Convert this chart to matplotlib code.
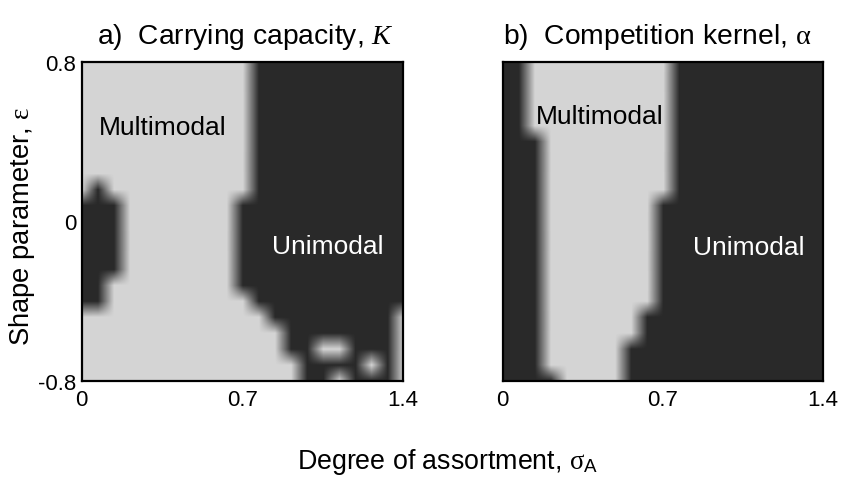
import numpy as np
import matplotlib
matplotlib.use("Agg")
import matplotlib.pyplot as plt
from matplotlib.colors import LinearSegmentedColormap

plt.rcParams['font.family'] = ['Liberation Sans', 'DejaVu Sans']
plt.rcParams['mathtext.fontset'] = 'custom'
plt.rcParams['mathtext.rm'] = 'Liberation Serif'
plt.rcParams['mathtext.it'] = 'Liberation Serif:italic'
plt.rcParams['mathtext.sf'] = 'Liberation Sans'

# grid axes
sigma_A = np.linspace(0, 1.4, 21)
epsilon = np.linspace(-0.8, 0.8, 21)

# 1 = multimodal (light), 0 = unimodal (dark); rows from epsilon=0.8 (top) to -0.8 (bottom)
grid_K = [
    "111111111110000000000",
    "111111111110000000000",
    "111111111110000000000",
    "111111111110000000000",
    "111111111110000000000",
    "111111111110000000000",
    "111111111110000000000",
    "111111111110000000000",
    "101111111110000000000",
    "000111111100000000000",
    "000111111100000000000",
    "000111111100000000000",
    "000111111100000000000",
    "000111111100000000000",
    "001111111100000000000",
    "001111111110000000000",
    "111111111111000000001",
    "111111111111100000001",
    "111111111111100110001",
    "111111111111110000101",
    "111111111111110010001",
]
grid_alpha = [
    "001111111110000000000",
    "001111111110000000000",
    "001111111110000000000",
    "001111111110000000000",
    "001111111110000000000",
    "000111111110000000000",
    "000111111110000000000",
    "000111111110000000000",
    "000111111110000000000",
    "000111111100000000000",
    "000111111100000000000",
    "000111111100000000000",
    "000111111100000000000",
    "000111111100000000000",
    "000111111100000000000",
    "000111111100000000000",
    "000111111000000000000",
    "000111111000000000000",
    "000111110000000000000",
    "000111110000000000000",
    "000011110000000000000",
]

titles = [r"a)  Carrying capacity, $K$", r"b)  Competition kernel, $\mathrm{\alpha}$"]
x_ticks = [0, 0.7, 1.4]
x_ticklabels = ["0", "0.7", "1.4"]
y_ticks = [-0.8, 0, 0.8]
y_ticklabels = ["-0.8", "0", "0.8"]

def to_array(rows):
    return np.array([[int(c) for c in r] for r in rows], dtype=float)  # top row first

cmap = LinearSegmentedColormap.from_list("gr", ["#292929", "#d4d4d4"])

W, H = 841, 489
fig = plt.figure(figsize=(W / 100, H / 100), dpi=100)

panels = [
    (81.7, 62.7, 321.3, 319.0, grid_K),
    (502.7, 62.7, 320.5, 319.0, grid_alpha),
]
dx = sigma_A[1] - sigma_A[0]
dy = epsilon[1] - epsilon[0]
axes = []
for k, (px, py, pw, ph, g) in enumerate(panels):
    ax = fig.add_axes([px / W, 1 - (py + ph) / H, pw / W, ph / H])
    Z = to_array(g)
    ax.imshow(Z, cmap=cmap, vmin=0, vmax=1, interpolation='bilinear',
              interpolation_stage='data', aspect='auto', origin='upper',
              extent=(sigma_A[0] - dx / 2, sigma_A[-1] + dx / 2,
                      epsilon[0] - dy / 2, epsilon[-1] + dy / 2))
    ax.set_xlim(0, 1.4)
    ax.set_ylim(-0.8, 0.8)
    ax.set_xticks(x_ticks)
    ax.set_xticklabels(x_ticklabels)
    ax.set_yticks(y_ticks)
    if k == 0:
        ax.set_yticklabels(y_ticklabels)
    else:
        ax.set_yticklabels([])
    ax.tick_params(length=0, labelsize=16, pad=6)
    ax.tick_params(axis='y', pad=4)
    for s in ax.spines.values():
        s.set_linewidth(1.6)
        s.set_color('black')
    axes.append(ax)

axes[0].text(0.355, 0.47, "Multimodal", ha='center', va='center', fontsize=19, color='black')
axes[0].text(1.07, -0.124, "Unimodal", ha='center', va='center', fontsize=19, color='white')
axes[1].text(0.425, 0.528, "Multimodal", ha='center', va='center', fontsize=19, color='black')
axes[1].text(1.076, -0.13, "Unimodal", ha='center', va='center', fontsize=19, color='white')

fig.text(97 / W, 1 - 37 / H, titles[0], ha='left', va='center', fontsize=20.3)
fig.text(503 / W, 1 - 37 / H, titles[1], ha='left', va='center', fontsize=20.3)

fig.text(447.5 / W, 1 - 462 / H, r"Degree of assortment, $\mathrm{\sigma}_{\mathsf{A}}$",
         ha='center', va='center', fontsize=19.3)
fig.text(22 / W, 1 - 226 / H, r"Shape parameter, $\mathrm{\varepsilon}$",
         ha='center', va='center', rotation=90, fontsize=19.7)

fig.savefig("out.png", dpi=100)
